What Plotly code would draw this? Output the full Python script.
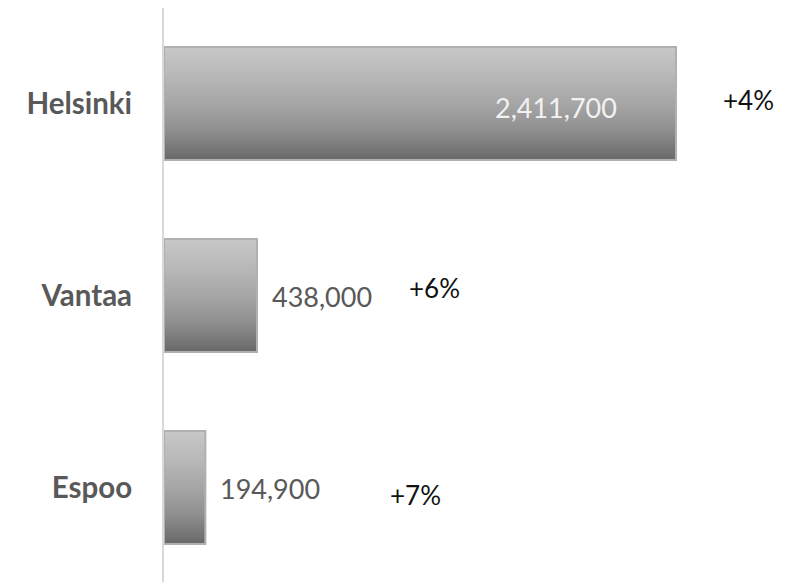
import plotly.graph_objects as go

cities = ["Helsinki", "Vantaa", "Espoo"]
values = [2411700, 438000, 194900]
value_labels = ["2,411,700", "438,000", "194,900"]
growth_labels = ["+4%", "+6%", "+7%"]

BAR_W = 0.589
N = 48
# gray levels of the fill from top to bottom (evenly spaced stops)
grad_stops = [199, 184, 166, 142, 106]


def gray_at(t):
    s = t * (len(grad_stops) - 1)
    k = min(int(s), len(grad_stops) - 2)
    f = s - k
    return round(grad_stops[k] + (grad_stops[k + 1] - grad_stops[k]) * f)


fig = go.Figure()
for i in range(N):
    g = gray_at(i / (N - 1))
    off = -BAR_W / 2 + i * BAR_W / N
    fig.add_trace(go.Bar(
        y=cities, x=values, orientation="h",
        width=BAR_W - i * BAR_W / N, offset=off,
        marker=dict(color="rgb(%d,%d,%d)" % (g, g, g), line=dict(width=0)),
        hoverinfo="skip", showlegend=False,
    ))
# outline
fig.add_trace(go.Bar(
    y=cities, x=values, orientation="h", width=BAR_W, offset=-BAR_W / 2,
    marker=dict(color="rgba(0,0,0,0)", line=dict(color="#b4afaf", width=2)),
    showlegend=False, hoverinfo="skip",
))

annotations = []
for i, (city, v, lab) in enumerate(zip(cities, values, value_labels)):
    if i == 0:
        annotations.append(dict(x=v, y=city, xref="x", yref="y", text=lab,
                                xanchor="right", xshift=-57, yshift=-4, showarrow=False,
                                font=dict(family="Lato", size=27, color="#f2f2f2")))
    else:
        annotations.append(dict(x=v, y=city, xref="x", yref="y", text=lab,
                                xanchor="left", xshift=13, yshift=-1, showarrow=False,
                                font=dict(family="Lato", size=27, color="#595959")))

growth_pos = [(0.9226, 3), (0.4281, 7), (0.3981, -8)]
for city, lab, (px, ys) in zip(cities, growth_labels, growth_pos):
    annotations.append(dict(x=px, y=city, xref="paper", yref="y", text=lab,
                            xanchor="center", yshift=ys, showarrow=False,
                            font=dict(family="Lato", size=26, color="#111111")))

fig.update_layout(
    width=789, height=574,
    margin=dict(l=156, r=0, t=0, b=0),
    paper_bgcolor="white", plot_bgcolor="white",
    barmode="overlay",
    xaxis=dict(range=[0, 633 * values[0] / 512], visible=False, fixedrange=True),
    yaxis=dict(categoryorder="array", categoryarray=cities,
               range=[2.4922, -0.497],
               showline=True, linecolor="#d9d9d9", linewidth=2,
               showgrid=False, zeroline=False, ticks="",
               ticklabelstandoff=24,
               tickfont=dict(family="Lato", size=29.5, color="#595959", weight="bold")),
    annotations=annotations,
)
fig.write_html("out.html")
